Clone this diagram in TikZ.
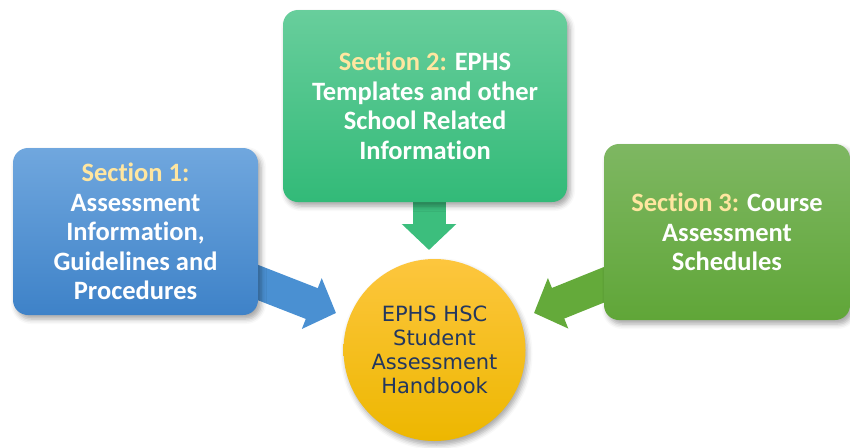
\documentclass[tikz,border=0pt]{standalone}
\usepackage{fontspec}
\setmainfont[Ligatures=NoCommon]{Carlito}
\newfontfamily\handbookfont{DejaVu Sans}
\usetikzlibrary{arrows.meta, shadows.blur}

\definecolor{labelgold}{RGB}{255,230,160}
\definecolor{bluetop}{RGB}{112,167,222}
\definecolor{bluebot}{RGB}{62,130,200}
\definecolor{bluearrow}{RGB}{74,144,210}
\definecolor{greentop}{RGB}{104,206,156}
\definecolor{greenbot}{RGB}{50,186,120}
\definecolor{greenarrow}{RGB}{60,190,125}
\definecolor{leaftop}{RGB}{126,183,98}
\definecolor{leafbot}{RGB}{96,166,56}
\definecolor{leafarrow}{RGB}{100,170,58}
\definecolor{suntop}{RGB}{253,198,62}
\definecolor{sunbot}{RGB}{237,183,0}
\definecolor{navy}{RGB}{35,55,95}

\pgfdeclarelayer{background}
\pgfsetlayers{background,main}

\newcommand{\sectlabel}[1]{\textcolor{labelgold}{Section #1:}}

\begin{document}
\begin{tikzpicture}[x=1pt, y=-1pt,
    section/.style={rounded corners=15pt, align=center, text=white, inner sep=0pt,
        font=\bfseries\fontsize{26.5}{29.5}\selectfont,
        blur shadow={shadow xshift=3pt, shadow yshift=-4pt, shadow blur radius=5pt, shadow opacity=35}},
    flow/.style={line width=33pt, -{Triangle[length=26pt, width=53pt]}}
]
    \useasboundingbox (0,0) rectangle (850,447);

    % Create section boxes
    \node (sec1) [section, minimum width=245pt, minimum height=167pt,
        top color=bluetop, bottom color=bluebot] at (135.5,231.5)
        {\sectlabel{1}\\Assessment\\Information,\\Guidelines and\\Procedures};

    \node (sec2) [section, minimum width=284pt, minimum height=192pt,
        top color=greentop, bottom color=greenbot] at (425,106)
        {\sectlabel{2} EPHS\\Templates and other\\School Related\\Information};

    \node (sec3) [section, minimum width=246pt, minimum height=176pt,
        top color=leaftop, bottom color=leafbot] at (727,232)
        {\sectlabel{3} Course\\Assessment\\Schedules};

    % Handbook in the middle
    \node (book) [circle, minimum size=182pt, inner sep=0pt, align=center, text=navy,
        font=\handbookfont\fontsize{21}{24}\selectfont,
        top color=suntop, bottom color=sunbot,
        blur shadow={shadow xshift=2pt, shadow yshift=-4pt, shadow blur radius=5pt, shadow opacity=35}]
        at (434.5,350) {EPHS HSC\\Student\\Assessment\\Handbook};

    \coordinate (tip1) at (336,313);
    \coordinate (tip2) at (429,250);
    \coordinate (tip3) at (534,313);

    % Draw arrows behind the boxes
    \begin{pgfonlayer}{background}
        \draw[flow, bluearrow] ([xshift=-8pt, yshift=-48pt]sec1.east) -- (tip1);
        \draw[flow, greenarrow] ([xshift=4pt, yshift=8pt]sec2.south) -- (tip2);
        \draw[flow, leafarrow] ([xshift=7pt, yshift=-50pt]sec3.west) -- (tip3);
    \end{pgfonlayer}
\end{tikzpicture}
\end{document}
